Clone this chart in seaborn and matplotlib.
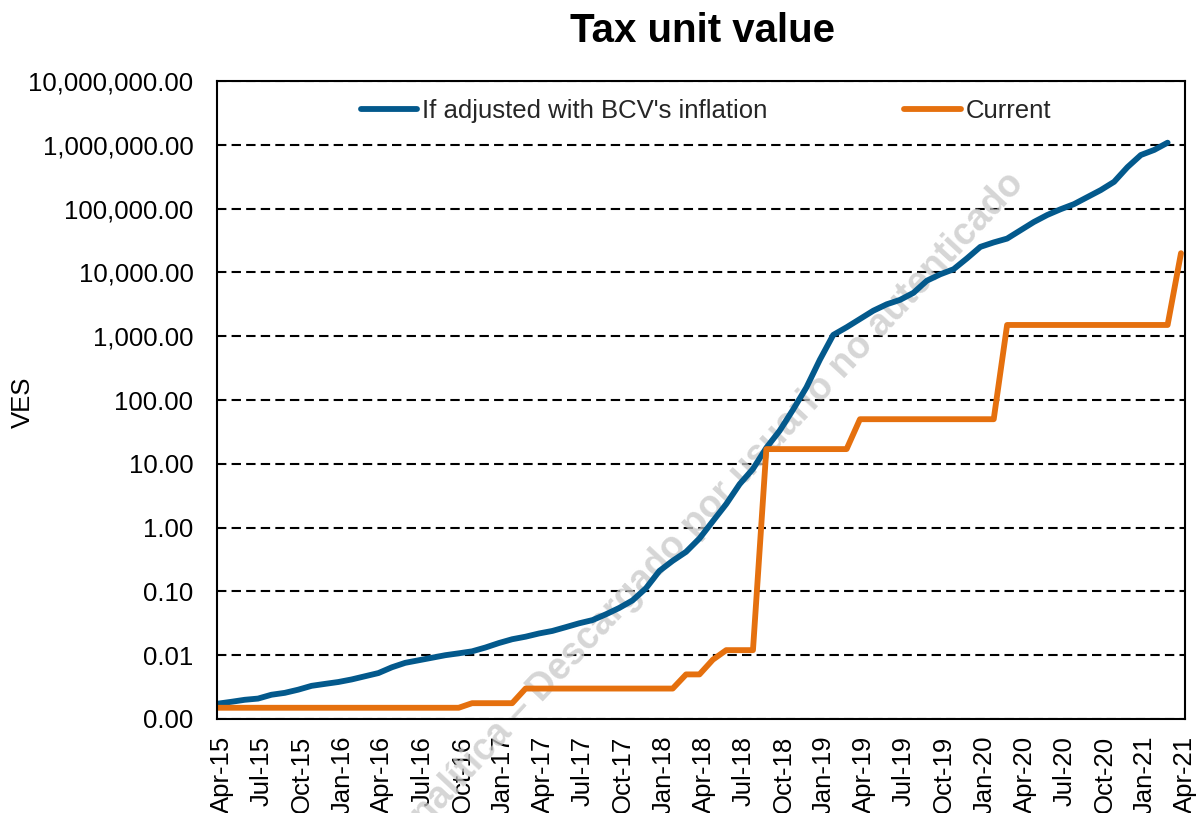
import matplotlib
matplotlib.use("Agg")
import numpy as np
import pandas as pd
import seaborn as sns
import matplotlib.pyplot as plt
import matplotlib.transforms as mtransforms
from matplotlib.ticker import FixedLocator, FuncFormatter, NullLocator

# ---------------- data (VES, monthly from Apr-15) ----------------
adjusted_bcv = [
    0.00174, 0.00186, 0.00200, 0.00209, 0.00240, 0.00257, 0.00288, 0.00331,
    0.00355, 0.00380, 0.00417, 0.00468, 0.00525, 0.00646, 0.00759, 0.00832,
    0.00912, 0.0100, 0.0107, 0.0115, 0.0132, 0.0155, 0.0178, 0.0195,
    0.0219, 0.0240, 0.0275, 0.0316, 0.0355, 0.0437, 0.0550, 0.0724,
    0.112, 0.209, 0.302, 0.417, 0.676, 1.26, 2.34, 4.79,
    8.32, 17.8, 33.1, 70.8, 158, 427, 1047, 1380,
    1862, 2512, 3162, 3715, 4786, 7413, 9333, 11220,
    16600, 25120, 29510, 33880, 45710, 61660, 79430, 97720,
    117500, 151400, 195000, 263000, 446700, 691800, 831800, 1080000,
]
current = [
    0.0015, 0.0015, 0.0015, 0.0015, 0.0015, 0.0015, 0.0015, 0.0015,
    0.0015, 0.0015, 0.0015, 0.0015, 0.0015, 0.0015, 0.0015, 0.0015,
    0.0015, 0.0015, 0.0015, 0.00177, 0.00177, 0.00177, 0.00177, 0.003,
    0.003, 0.003, 0.003, 0.003, 0.003, 0.003, 0.003, 0.003,
    0.003, 0.003, 0.003, 0.005, 0.005, 0.0085, 0.012, 0.012,
    0.012, 17, 17, 17, 17, 17, 17, 17,
    50, 50, 50, 50, 50, 50, 50, 50,
    50, 50, 50, 1500, 1500, 1500, 1500, 1500,
    1500, 1500, 1500, 1500, 1500, 1500, 1500, 1500,
    20000,
]
tick_labels = [
    "Apr-15", "Jul-15", "Oct-15", "Jan-16", "Apr-16", "Jul-16", "Oct-16",
    "Jan-17", "Apr-17", "Jul-17", "Oct-17", "Jan-18", "Apr-18", "Jul-18",
    "Oct-18", "Jan-19", "Apr-19", "Jul-19", "Oct-19", "Jan-20", "Apr-20",
    "Jul-20", "Oct-20", "Jan-21", "Apr-21",
]
series_names = ["If adjusted with BCV's inflation", "Current"]
title = "Tax unit value"
y_label = "VES"
watermark = "Ecoanalítica – Descargado por usuario no autenticado"

BLUE = "#03598C"
ORANGE = "#E5700E"

# ---------------- figure ----------------
sns.set_theme(style="white")
plt.rcParams["font.family"] = ["Liberation Sans", "DejaVu Sans"]

W, H = 1197, 813
fig = plt.figure(figsize=(W / 100, H / 100), dpi=100)
ax = fig.add_axes([217 / W, 1 - 719 / H, (1185 - 217) / W, (719 - 81) / H])

df_adj = pd.DataFrame({"month": np.arange(len(adjusted_bcv)), "value": adjusted_bcv})
df_cur = pd.DataFrame({"month": np.arange(len(current)), "value": current})

sns.lineplot(data=df_adj, x="month", y="value", ax=ax, color=BLUE, linewidth=4.2,
             label=series_names[0], solid_capstyle="round", solid_joinstyle="round", zorder=3)
sns.lineplot(data=df_cur, x="month", y="value", ax=ax, color=ORANGE, linewidth=4.2,
             label=series_names[1], solid_capstyle="round", solid_joinstyle="round", zorder=3)

ax.set_yscale("log")
ax.set_ylim(1e-3, 1e7)
ax.set_xlim(-0.07, 72.3)

ax.yaxis.set_major_locator(FixedLocator([10.0 ** k for k in range(-3, 8)]))
ax.yaxis.set_minor_locator(NullLocator())
ax.yaxis.set_major_formatter(FuncFormatter(lambda v, p: f"{v:,.2f}"))

ax.set_xticks(np.arange(0, 3 * len(tick_labels), 3))
ax.set_xticklabels(tick_labels, rotation=90)
ax.set_xlabel("")
ax.set_ylabel("")

ax.tick_params(axis="both", length=0, labelsize=18.5, colors="black")
ax.tick_params(axis="y", pad=17)
ax.tick_params(axis="x", pad=12)
offset = mtransforms.ScaledTranslation(4 / 100, 0, fig.dpi_scale_trans)
for lab in ax.get_xticklabels():
    lab.set_transform(lab.get_transform() + offset)

ax.set_axisbelow(True)
ax.yaxis.grid(True, which="major", color="black", linestyle=(0, (4.5, 2.5)), linewidth=1.5)
ax.xaxis.grid(False)

for s in ax.spines.values():
    s.set_visible(True)
    s.set_color("black")
    s.set_linewidth(1.5)
    s.set_zorder(4)

ax.legend(ncol=2, frameon=False, fontsize=18.5, handlelength=2.2, handletextpad=0.2,
          columnspacing=5.3, loc="center", bbox_to_anchor=(706 / W, 1 - 111 / H),
          bbox_transform=fig.transFigure)

fig.text(703 / W, 1 - 31 / H, title, ha="center", va="center", fontsize=29,
         fontweight="bold", color="black")
fig.text(23 / W, 1 - 402 / H, y_label, ha="center", va="center", rotation=90,
         fontsize=18.5, color="black")

ax.text(1018 / W, 1 - 178 / H, watermark, transform=fig.transFigure, rotation=47,
        rotation_mode="anchor", ha="right", va="center", fontsize=27, fontweight="bold",
        color="#C8C8C8", alpha=0.75, zorder=1, clip_on=False)

fig.savefig("out.png", dpi=100)
